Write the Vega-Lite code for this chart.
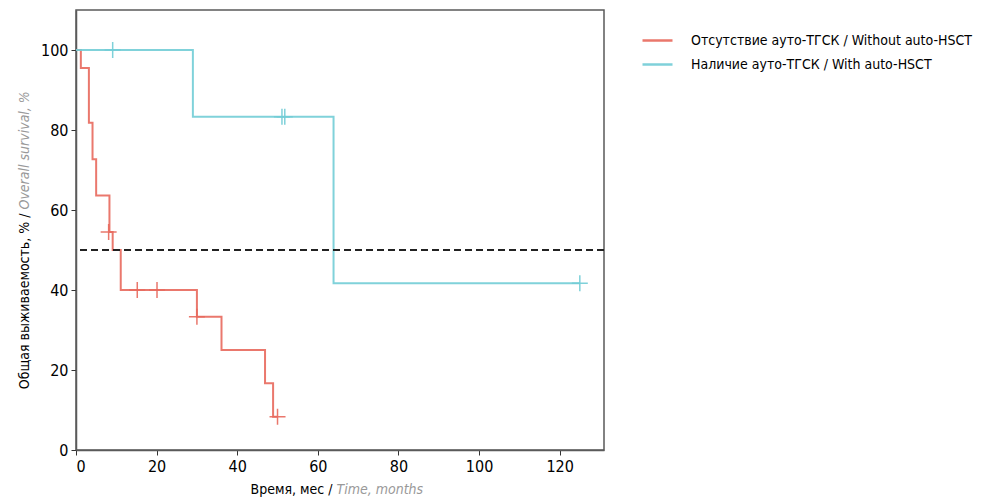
{
  "$schema": "https://vega.github.io/schema/vega-lite/v6.json",
  "autosize": "none",
  "width": 528,
  "height": 440,
  "padding": {"left": 76, "top": 10, "right": 378, "bottom": 48},
  "background": "white",
  "config": {
    "font": "DejaVu Sans Condensed, sans-serif",
    "view": {"stroke": "#5a5a5a", "strokeWidth": 1.5},
    "axis": {
      "grid": false,
      "labelFont": "DejaVu Sans Condensed, sans-serif",
      "titleFont": "DejaVu Sans Condensed, sans-serif",
      "labelFontSize": 16,
      "titleFontSize": 14,
      "titleFontWeight": "normal",
      "labelColor": "#000000",
      "titleColor": "#000000",
      "domainColor": "#5a5a5a",
      "domainWidth": 1.5,
      "tickColor": "#333333",
      "tickSize": 5,
      "labelPadding": 3
    },
    "legend": {
      "labelFont": "DejaVu Sans Condensed, sans-serif",
      "labelFontSize": 14,
      "labelColor": "#000000",
      "labelLimit": 0
    }
  },
  "datasets": {
    "curves": [
      {"group": "without", "time": 0, "surv": 100},
      {"group": "without", "time": 1.2, "surv": 95.5},
      {"group": "without", "time": 3.2, "surv": 81.8},
      {"group": "without", "time": 4.1, "surv": 72.7},
      {"group": "without", "time": 5.0, "surv": 63.6},
      {"group": "without", "time": 8.3, "surv": 54.5},
      {"group": "without", "time": 9.1, "surv": 50.0},
      {"group": "without", "time": 11.1, "surv": 40.0},
      {"group": "without", "time": 30.0, "surv": 33.3},
      {"group": "without", "time": 36.1, "surv": 25.0},
      {"group": "without", "time": 46.9, "surv": 16.7},
      {"group": "without", "time": 48.9, "surv": 8.3},
      {"group": "without", "time": 50.0, "surv": 8.3},
      {"group": "with", "time": 0, "surv": 100},
      {"group": "with", "time": 29.0, "surv": 83.3},
      {"group": "with", "time": 63.9, "surv": 41.7},
      {"group": "with", "time": 125.0, "surv": 41.7}
    ],
    "censored": [
      {"group": "without", "time": 8.1, "surv": 54.5},
      {"group": "without", "time": 15.2, "surv": 40.0},
      {"group": "without", "time": 20.1, "surv": 40.0},
      {"group": "without", "time": 30.0, "surv": 33.3},
      {"group": "without", "time": 50.0, "surv": 8.3},
      {"group": "with", "time": 9.1, "surv": 100},
      {"group": "with", "time": 51.1, "surv": 83.3},
      {"group": "with", "time": 51.8, "surv": 83.3},
      {"group": "with", "time": 125.0, "surv": 41.7}
    ],
    "median": [{"level": 50}]
  },
  "layer": [
    {
      "layer": [
        {
          "data": {"name": "curves"},
          "mark": {"type": "line", "interpolate": "step-after", "strokeWidth": 2, "opacity": 0.9},
          "encoding": {
            "x": {"field": "time", "type": "quantitative",
                  "scale": {"domain": [0, 131], "nice": false, "zero": true},
                  "axis": {"values": [0, 20, 40, 60, 80, 100, 120], "title": "Время, мес /", "titleX": 256, "titleY": 43, "titleBaseline": "alphabetic", "titleAlign": "right", "titleAnchor": null}},
            "y": {"field": "surv", "type": "quantitative",
                  "scale": {"domain": [0, 110], "nice": false},
                  "axis": {"values": [0, 20, 40, 60, 80, 100], "title": "Общая выживаемость, % /", "titleX": -45, "titleY": 203, "titleAlign": "right", "titleAngle": -90}},
            "color": {"field": "group", "type": "nominal",
                      "scale": {"domain": ["without", "with"], "range": ["#e8695d", "#72cdd6"]},
                      "legend": {"title": null, "orient": "right", "offset": 23, "padding": 14,
                                 "symbolType": "stroke", "symbolSize": 900, "symbolStrokeWidth": 2.5,
                                 "labelOffset": 17, "rowPadding": -5,
                                 "labelExpr": "datum.value == 'without' ? 'Отсутствие ауто-ТГСК / Without auto-HSCT' : 'Наличие ауто-ТГСК / With auto-HSCT'"}},
            "detail": {"field": "group"}
          }
        },
        {
          "data": {"name": "median"},
          "mark": {"type": "rule", "color": "#222222", "strokeWidth": 2, "strokeDash": [7, 4]},
          "encoding": {"y": {"field": "level", "type": "quantitative"}}
        }
      ]
    },
    {
      "data": {"name": "censored"},
      "mark": {"type": "point", "shape": "M-1,0H1M0,-1V1", "filled": false, "strokeWidth": 1.5, "size": 256, "opacity": 0.9},
      "encoding": {
        "x": {"field": "time", "type": "quantitative",
              "axis": {"orient": "bottom", "labels": false, "ticks": false, "domain": false, "title": "Time, months", "titleColor": "#999999", "titleFontStyle": "italic", "titleX": 260, "titleY": 43, "titleBaseline": "alphabetic", "titleAlign": "left", "titleAnchor": null}},
        "y": {"field": "surv", "type": "quantitative",
              "axis": {"orient": "left", "labels": false, "ticks": false, "domain": false, "title": "Overall survival, %", "titleColor": "#999999", "titleFontStyle": "italic", "titleX": -45, "titleY": 199, "titleAlign": "left", "titleAngle": -90}},
        "color": {"field": "group", "type": "nominal"}
      }
    }
  ],
  "resolve": {"axis": {"x": "independent", "y": "independent"}}
}
